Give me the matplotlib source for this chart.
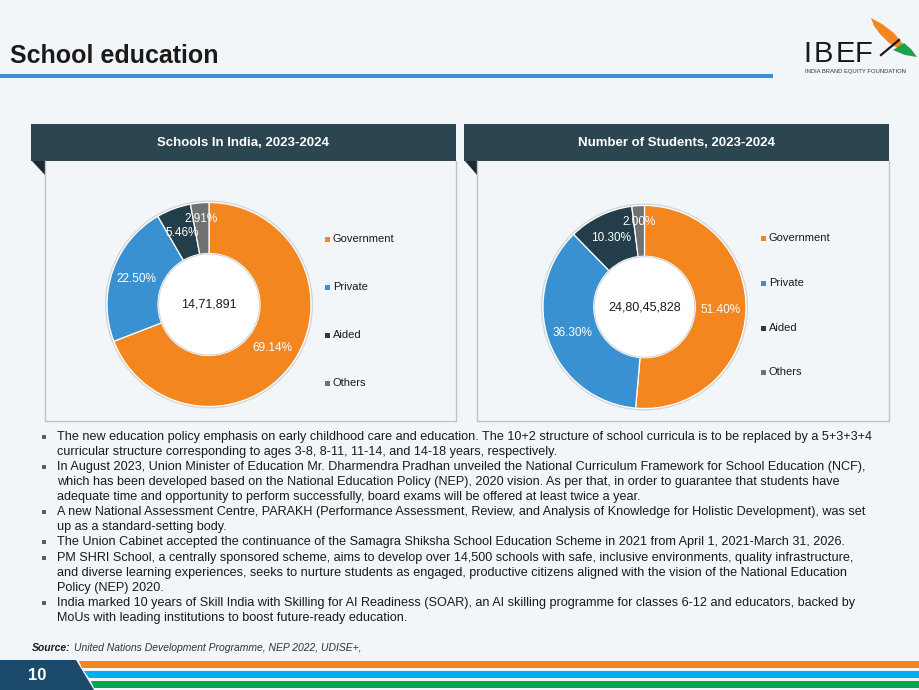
import matplotlib
matplotlib.use("Agg")
import matplotlib.pyplot as plt
import numpy as np
from matplotlib.patches import Rectangle, Polygon, Circle

plt.rcParams["font.family"] = ["Liberation Sans", "DejaVu Sans"]

# ---- data -------------------------------------------------------------
categories = ["Government", "Private", "Aided", "Others"]
schools_share = [69.14, 22.50, 5.46, 2.91]
students_share = [51.40, 36.30, 10.30, 2.00]
schools_total = "14,71,891"
students_total = "24,80,45,828"
chart_titles = ["Schools In India, 2023-2024", "Number of Students, 2023-2024"]
slide_title = "School education"
page_number = "10"
source_label = "Source:"
source_text = "United Nations Development Programme, NEP 2022, UDISE+,"
bullets = [
    ["The new education policy emphasis on early childhood care and education. The 10+2 structure of school curricula is to be replaced by a 5+3+3+4",
     "curricular structure corresponding to ages 3-8, 8-11, 11-14, and 14-18 years, respectively."],
    ["In August 2023, Union Minister of Education Mr. Dharmendra Pradhan unveiled the National Curriculum Framework for School Education (NCF),",
     "which has been developed based on the National Education Policy (NEP), 2020 vision. As per that, in order to guarantee that students have",
     "adequate time and opportunity to perform successfully, board exams will be offered at least twice a year."],
    ["A new National Assessment Centre, PARAKH (Performance Assessment, Review, and Analysis of Knowledge for Holistic Development), was set",
     "up as a standard-setting body."],
    ["The Union Cabinet accepted the continuance of the Samagra Shiksha School Education Scheme in 2021 from April 1, 2021-March 31, 2026."],
    ["PM SHRI School, a centrally sponsored scheme, aims to develop over 14,500 schools with safe, inclusive environments, quality infrastructure,",
     "and diverse learning experiences, seeks to nurture students as engaged, productive citizens aligned with the vision of the National Education",
     "Policy (NEP) 2020."],
    ["India marked 10 years of Skill India with Skilling for AI Readiness (SOAR), an AI skilling programme for classes 6-12 and educators, backed by",
     "MoUs with leading institutions to boost future-ready education."],
]

# ---- style ------------------------------------------------------------
colors = ["#F4861F", "#3A91D1", "#233E4A", "#707173"]
bg = "#F3F6F8"
header_col = "#2B4650"
border_col = "#B9C5C9"
W, H = 920, 690

fig = plt.figure(figsize=(W / 100, H / 100), dpi=100, facecolor=bg)
ax = fig.add_axes([0, 0, 1, 1])
ax.set_xlim(0, W)
ax.set_ylim(H, 0)
ax.axis("off")

# title + rule
ax.text(10, 63, slide_title, fontsize=18, fontweight="bold", color="#1a1a1a", va="baseline")
ax.add_patch(Rectangle((0, 74), 773, 3.5, color="#3A8FD0", lw=0))

# logo
for letter, lx in zip("IBEF", [807, 823, 845, 864]):
    ax.text(lx, 62, letter, fontsize=21, color="#1a1a1a", ha="center", va="baseline")
ax.text(805, 71, "INDIA BRAND EQUITY FOUNDATION", fontsize=4.2, color="#333333", va="center")
ax.add_patch(Polygon([(871, 18), (882, 24), (894, 33), (903, 44), (899, 49), (889, 43), (880, 34), (874, 26)],
                     color="#F4861F", lw=0))
ax.add_patch(Polygon([(893, 50), (904, 43), (911, 49), (917, 57), (905, 55)], color="#1BA24A", lw=0))
ax.plot([881, 899], [55, 40], color="#1a1a1a", lw=1.6)

# panels
panels = [(31, 45, 456), (464, 477, 889)]
for (hx, bx, rx), title in zip(panels, chart_titles):
    ax.add_patch(Rectangle((hx, 124), rx - hx, 37, color=header_col, lw=0))
    ax.text((hx + rx) / 2, 143, title, fontsize=9.5, fontweight="bold", color="white",
            ha="center", va="center")
    ax.plot([bx, bx, rx, rx], [161, 421, 421, 161], color=border_col, lw=1)
    ax.add_patch(Polygon([(hx + 1, 161), (bx, 161), (bx, 175)], color="#1B2A30", lw=0))


def donut(cx, cy, r, shares, total):
    a = fig.add_axes([(cx - r) / W, 1 - (cy + r) / H, 2 * r / W, 2 * r / H])
    a.set_facecolor("none")
    a.add_patch(Circle((0, 0), 1.012, fill=False, ec="#D2D7DA", lw=1.2, zorder=0))
    wedges, _ = a.pie(shares, colors=colors, startangle=90, counterclock=False, radius=1,
                      wedgeprops=dict(width=0.5, edgecolor="white", linewidth=0.9))
    a.add_patch(Circle((0, 0), 0.495, fc="white", ec="#D2D7DA", lw=0.8, zorder=3))
    for i, (w, v) in enumerate(zip(wedges, shares)):
        ang = np.deg2rad((w.theta1 + w.theta2) / 2)
        rr = 0.84 if i == len(shares) - 1 else 0.75
        a.text(rr * np.cos(ang), rr * np.sin(ang), f"{v:.2f}%", fontsize=8.5, color="white",
               ha="center", va="center", zorder=4)
    a.text(0, 0, total, fontsize=9, color="#1a1a1a", ha="center", va="center", zorder=4)
    a.set_xlim(-1.03, 1.03)
    a.set_ylim(-1.03, 1.03)
    a.axis("off")


donut(209, 304.5, 102 * 1.03, schools_share, schools_total)
donut(644.5, 307, 101.5 * 1.03, students_share, students_total)

# legends
for (sx, ys) in [(328, [239, 287, 335, 383]), (764, [238, 283, 328, 372])]:
    for name, col, y in zip(categories, colors, ys):
        ax.add_patch(Rectangle((sx - 2.5, y - 2.5), 5, 5, color=col, lw=0))
        ax.text(sx + 5, y, name, fontsize=8, color="#1a1a1a", va="center")

# bullets
y = 436.7
for item in bullets:
    ax.add_patch(Rectangle((42, y - 2), 4, 4, color="#4A6374", lw=0))
    for line in item:
        ax.text(57.5, y, line, fontsize=9.12, color="#1a1a1a", va="center")
        y += 15.1

# source
t = ax.text(32, 648, source_label, fontsize=7.5, fontweight="bold", fontstyle="italic",
            color="#1a1a1a", va="center")
fig.canvas.draw()
bb = t.get_window_extent()
ax.text(bb.x1 + 3, 648, source_text, fontsize=7.5, fontstyle="italic", color="#333333", va="center")

# footer
ax.add_patch(Polygon([(0, 660), (76, 660), (94, 690), (0, 690)], color="#1C4A6B", lw=0))
ax.text(37, 675, page_number, fontsize=12, fontweight="bold", color="white", ha="center", va="center")
for (y0, y1), col in zip([(661, 667.5), (670.5, 678), (681, 687.5)], ["#F4861F", "#00AEEF", "#00A651"]):
    ax.add_patch(Polygon([(78 + 0.6 * (y0 - 660), y0), (W, y0), (W, y1), (78 + 0.6 * (y1 - 660), y1)],
                         color=col, lw=0))

fig.savefig("out.png", dpi=100, facecolor=bg)
